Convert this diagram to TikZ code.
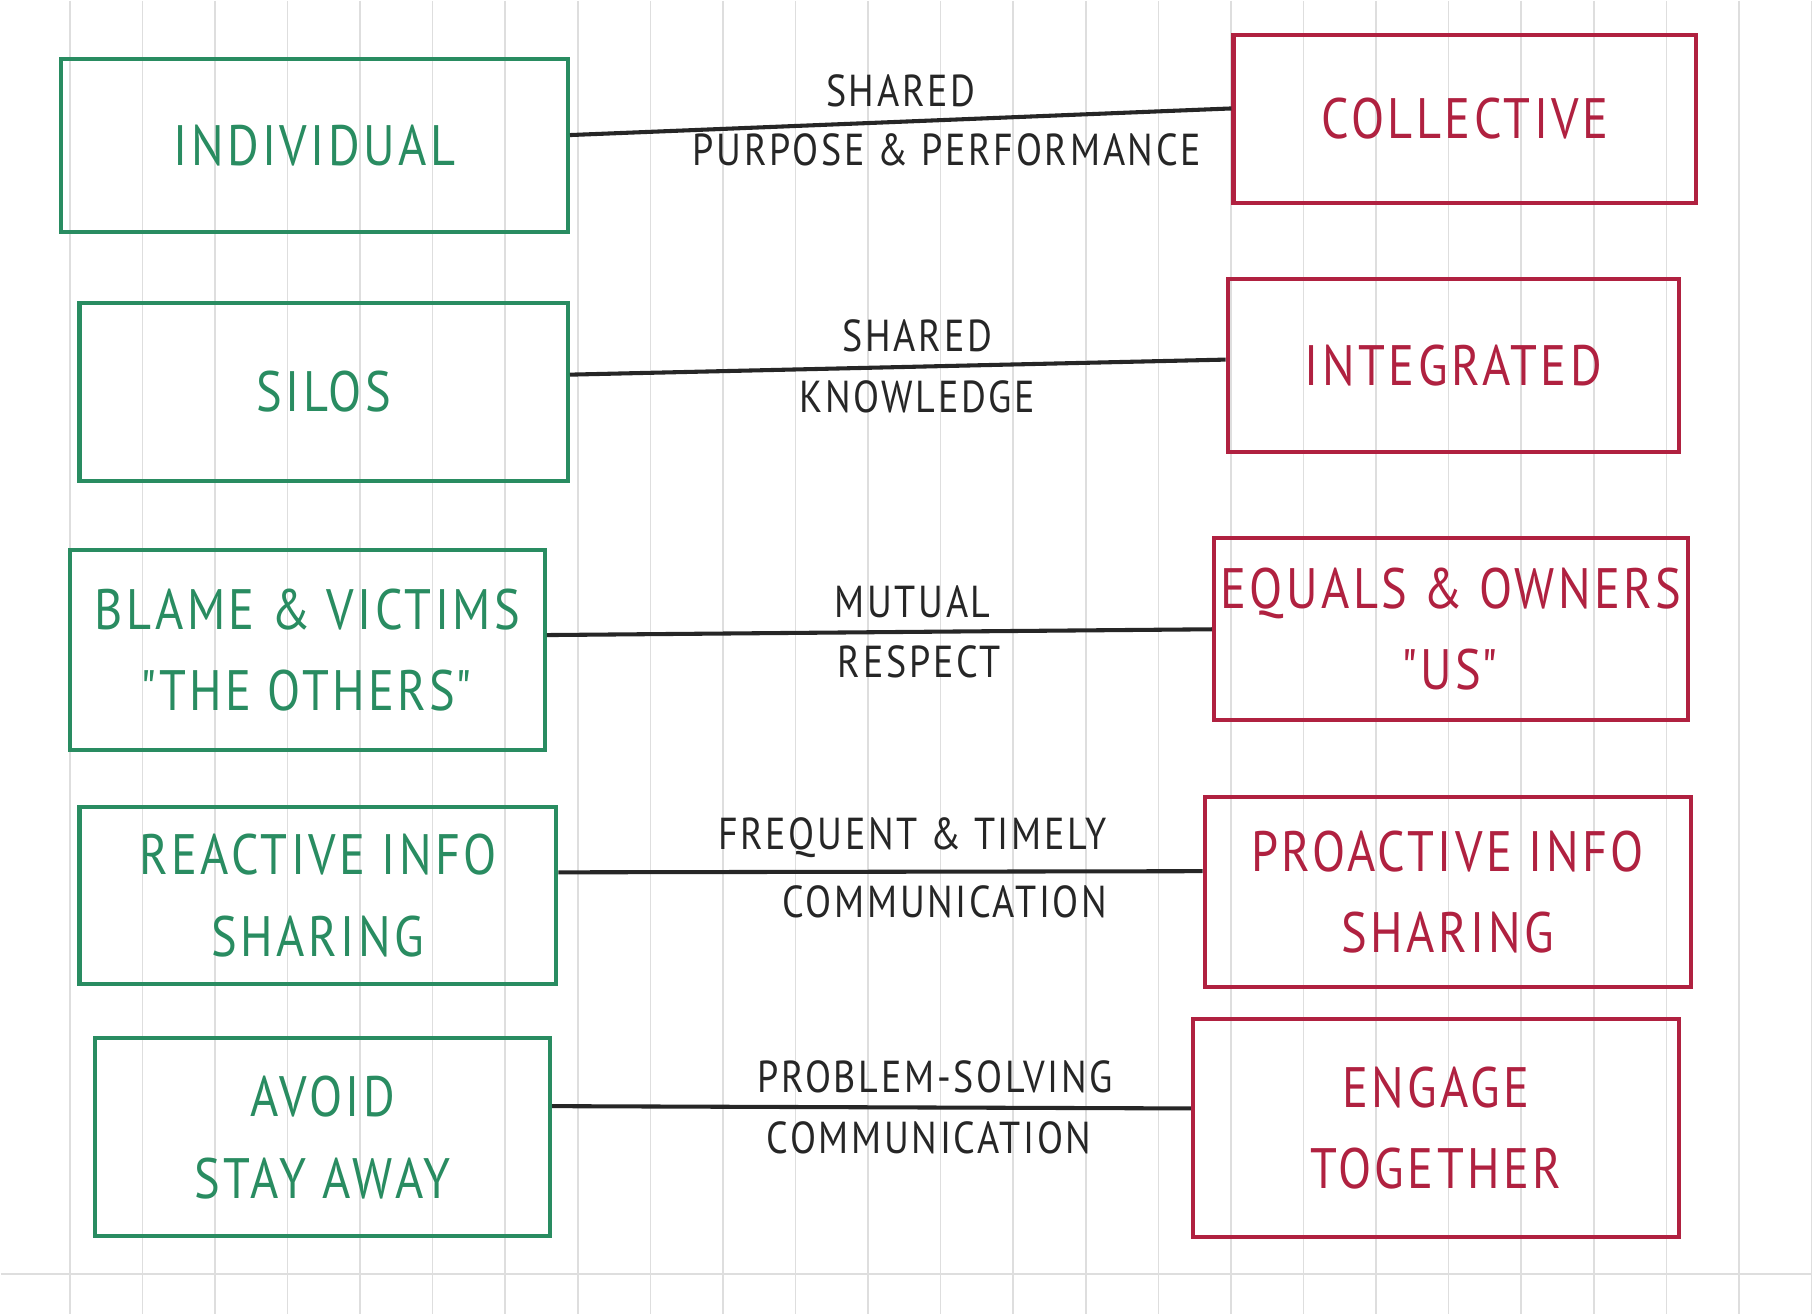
\documentclass[tikz,border=0pt]{standalone}
\usepackage{fontspec}
\setmainfont{PT Sans}[FakeStretch=0.85]
\definecolor{OldClr}{rgb}{0.16,0.55,0.38}
\definecolor{NewClr}{rgb}{0.69,0.13,0.25}
\definecolor{GridClr}{gray}{0.87}

\begin{document}
\begin{tikzpicture}[x=0.1mm,y=-0.1mm,
  oldbox/.style={draw=OldClr,text=OldClr,line width=1pt,align=center,inner sep=0pt,
    font=\fontsize{14}{20}\selectfont\addfontfeature{LetterSpace=6}},
  newbox/.style={oldbox,draw=NewClr,text=NewClr},
  link/.style={line width=1pt,black!85},
  linklbl/.style={inner sep=3pt,font=\fontsize{11}{13}\selectfont\addfontfeature{LetterSpace=6}}]

% paper
\fill[white] (0,0) rectangle (1565,1135);
\foreach \gx in {0,...,24}
  \draw[GridClr,line width=0.4pt] ({59.6+62.7*\gx},0) -- ++(0,1135);
\draw[GridClr,line width=0.4pt] (0,1100) -- (1565,1100);

% old ways
\node[oldbox,minimum width=43.8mm,minimum height=15mm] (indiv) at (271,125) {INDIVIDUAL};
\node[oldbox,minimum width=42.2mm,minimum height=15.3mm] (silos) at (279,338) {SILOS};
\node[oldbox,minimum width=41mm,minimum height=17.3mm] (blame) at (265,561) {BLAME \& VICTIMS\\\textquotedbl THE OTHERS\textquotedbl};
\node[oldbox,minimum width=41.2mm,minimum height=15.3mm] (react) at (274,773) {REACTIVE INFO\\SHARING};
\node[oldbox,minimum width=39.3mm,minimum height=17.1mm] (avoid) at (278,982) {AVOID\\STAY AWAY};

% new ways
\node[newbox,minimum width=40mm,minimum height=14.5mm] (collect) at (1265,102) {COLLECTIVE};
\node[newbox,minimum width=39mm,minimum height=15mm] (integr) at (1255,315) {INTEGRATED};
\node[newbox,minimum width=41mm,minimum height=15.7mm] (equals) at (1253,543) {EQUALS \& OWNERS\\\textquotedbl US\textquotedbl};
\node[newbox,minimum width=42mm,minimum height=16.4mm] (proact) at (1250,770) {PROACTIVE INFO\\SHARING};
\node[newbox,minimum width=42mm,minimum height=18.8mm] (engage) at (1240,974) {ENGAGE\\TOGETHER};

\draw[link] ([yshift=0.9mm]indiv.east) -- ([yshift=0.9mm]collect.west)
  node[pos=.5,above,linklbl]{SHARED} node[pos=.57,below,linklbl]{PURPOSE \& PERFORMANCE};
\draw[link] ([yshift=1.5mm]silos.east) -- ([yshift=0.5mm]integr.west)
  node[pos=.53,above,linklbl]{SHARED} node[pos=.53,below,linklbl]{KNOWLEDGE};
\draw[link] ([yshift=1.3mm]blame.east) -- (equals.west)
  node[pos=.55,above,linklbl]{MUTUAL} node[pos=.56,below,linklbl]{RESPECT};
\draw[link] ([yshift=2mm]react.east) -- ([yshift=1.8mm]proact.west)
  node[pos=.55,above,linklbl]{FREQUENT \& TIMELY} node[pos=.6,below,linklbl]{COMMUNICATION};
\draw[link] ([yshift=2.7mm]avoid.east) -- ([yshift=1.7mm]engage.west)
  node[pos=.6,above,linklbl]{PROBLEM-SOLVING} node[pos=.59,below,linklbl]{COMMUNICATION};

\end{tikzpicture}
\end{document}
